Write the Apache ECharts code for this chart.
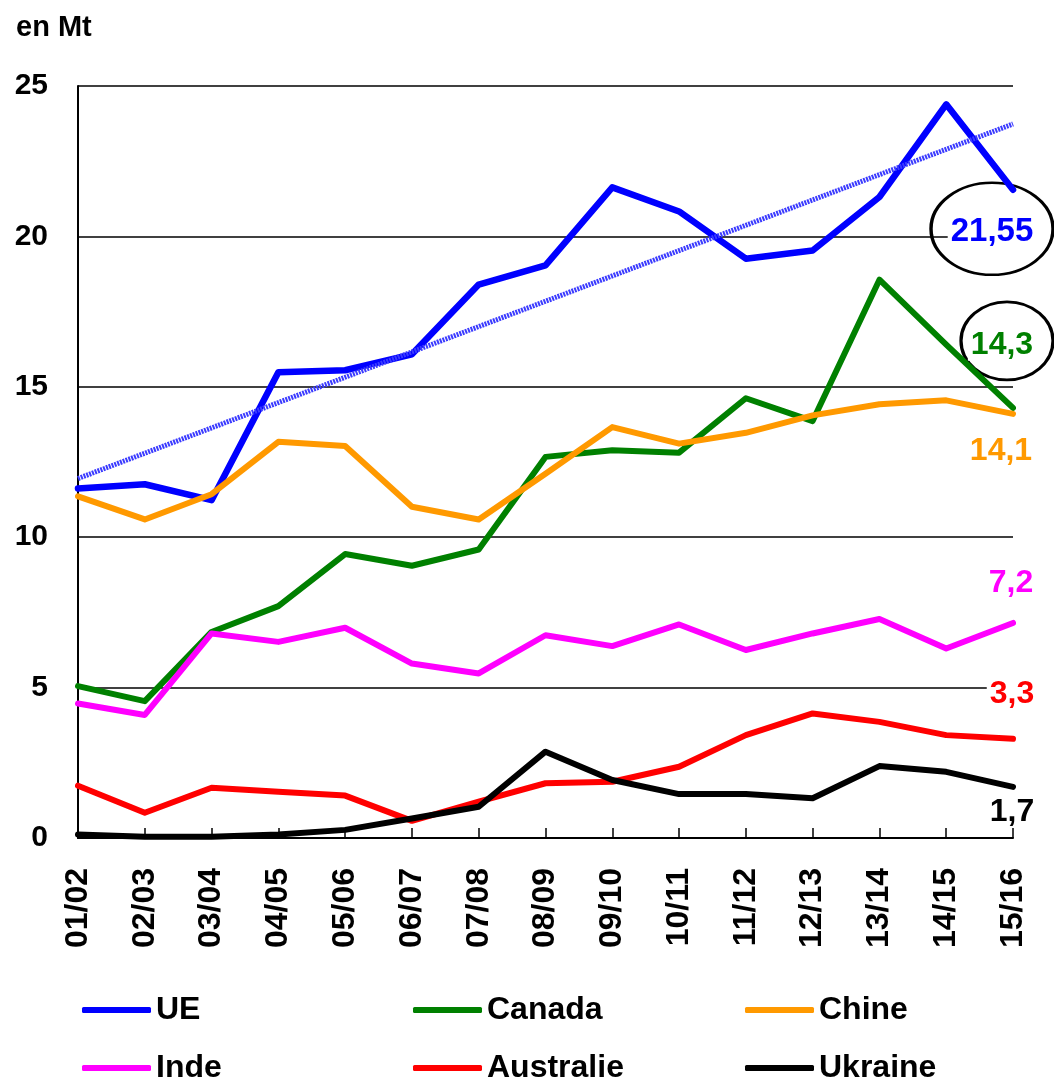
<!DOCTYPE html>
<html>
<head>
<meta charset="utf-8">
<script src="https://cdn.jsdelivr.net/npm/echarts@6/dist/echarts.min.js"></script>
<style>
  html, body { margin: 0; padding: 0; background: #fff; }
  #chart { width: 1054px; height: 1080px; }
</style>
</head>
<body>
<div id="chart"></div>
<script>
const FONT = '"Liberation Sans", Arial, sans-serif';

// campaigns
const years = ['01/02', '02/03', '03/04', '04/05', '05/06', '06/07', '07/08', '08/09',
  '09/10', '10/11', '11/12', '12/13', '13/14', '14/15', '15/16'];

// values in Mt
const ue = [11.62, 11.76, 11.23, 15.48, 15.55, 16.08, 18.4, 19.04, 21.63, 20.83, 19.26, 19.53, 21.31, 24.39, 21.55];
const canada = [5.05, 4.55, 6.85, 7.71, 9.44, 9.05, 9.59, 12.67, 12.89, 12.81, 14.62, 13.86, 18.56, 16.4, 14.3];
const chine = [11.36, 10.59, 11.43, 13.17, 13.03, 11.01, 10.59, 12.11, 13.66, 13.11, 13.47, 14.05, 14.42, 14.55, 14.1];
const inde = [4.47, 4.09, 6.8, 6.52, 6.99, 5.8, 5.47, 6.74, 6.38, 7.1, 6.25, 6.8, 7.28, 6.3, 7.15];
const australie = [1.74, 0.84, 1.67, 1.54, 1.41, 0.57, 1.21, 1.82, 1.87, 2.37, 3.42, 4.14, 3.86, 3.42, 3.3];
const ukraine = [0.12, 0.04, 0.04, 0.12, 0.27, 0.65, 1.04, 2.87, 1.93, 1.46, 1.46, 1.32, 2.39, 2.2, 1.7];

const names = ['UE', 'Canada', 'Chine', 'Inde', 'Australie', 'Ukraine'];
const endLabels = ['21,55', '14,3', '14,1', '7,2', '3,3', '1,7'];

const allValues = [ue, canada, chine, inde, australie, ukraine];
const colors = ['#0000ff', '#008000', '#ff9900', '#ff00ff', '#ff0000', '#000000'];

// linear trend of the UE series (least squares, like the spreadsheet trendline)
function linearTrend(vals) {
  const n = vals.length;
  let sx = 0, sy = 0, sxy = 0, sxx = 0;
  vals.forEach((v, i) => { sx += i; sy += v; sxy += i * v; sxx += i * i; });
  const slope = (n * sxy - sx * sy) / (n * sxx - sx * sx);
  const icpt = (sy - slope * sx) / n;
  return vals.map((v, i) => +(icpt + slope * i).toFixed(3));
}

const chart = echarts.init(document.getElementById('chart'));

const lineSeries = names.map((name, i) => ({
  name: name,
  type: 'line',
  data: allValues[i],
  color: colors[i],
  showSymbol: false,
  z: 3,
  lineStyle: { width: i === 0 ? 6.5 : 6, cap: 'round', join: 'round' }
}));

const trendSeries = {
  name: 'tendance',
  type: 'line',
  data: linearTrend(ue),
  showSymbol: false,
  z: 4,
  lineStyle: { color: '#3b3bff', width: 5, type: [2, 1] }
};

// end-of-line value labels (offsets in px from last point)
const labelOffsets = [[-21, 39], [-6, -67], [-12, 37], [-2, -40], [-1, -45], [-1, 25]];
const ellipses = [[122, 92], [92, 78], null, null, null, null];

const labelSeries = names.map((name, i) => {
  const last = allValues[i].length - 1;
  const ell = ellipses[i];
  return {
    type: 'scatter',
    silent: true,
    z: 2,
    data: [[years[last], allValues[i][last]]],
    symbol: 'circle',
    symbolSize: ell ? ell : 1,
    symbolOffset: labelOffsets[i],
    itemStyle: ell
      ? { color: 'rgba(0,0,0,0)', borderColor: '#000', borderWidth: 3, opacity: 1 }
      : { color: 'rgba(0,0,0,0)', opacity: 1 },
    label: {
      show: true,
      position: 'inside',
      formatter: endLabels[i],
      color: colors[i],
      opacity: 1,
      fontFamily: FONT,
      fontWeight: 'bold',
      fontSize: i === 0 ? 33 : 32,
      backgroundColor: '#fff',
      padding: [0, 3],
      offset: i === 1 ? [-5, 4] : (i === 0 ? [0, 3] : [0, 0])
    }
  };
});

const legendLefts = [77, 408, 740];
const legendTops = [989, 1047];
const legends = names.map((name, i) => ({
  data: [name],
  left: legendLefts[i % 3],
  top: legendTops[Math.floor(i / 3)],
  icon: 'roundRect',
  itemWidth: 69,
  itemHeight: 6,
  selectedMode: false,
  textStyle: { color: '#000', fontFamily: FONT, fontWeight: 'bold', fontSize: 32, lineHeight: 32 }
}));

chart.setOption({
  animation: false,
  backgroundColor: '#fff',
  title: {
    text: 'en Mt',
    left: 11,
    top: 8,
    textStyle: { color: '#000', fontFamily: FONT, fontWeight: 'bold', fontSize: 29 }
  },
  legend: legends,
  grid: { left: 78, right: 41, top: 86, bottom: 242 },
  xAxis: {
    type: 'category',
    data: years,
    boundaryGap: false,
    axisLine: { lineStyle: { color: '#000', width: 2 } },
    axisTick: { inside: true, length: 10, interval: 0, lineStyle: { color: '#000', width: 1.5 } },
    axisLabel: {
      interval: 0,
      rotate: 90,
      margin: 30,
      color: '#000',
      fontFamily: FONT,
      fontWeight: 'bold',
      fontSize: 32
    }
  },
  yAxis: {
    type: 'value',
    min: 0,
    max: 25,
    interval: 5,
    axisLine: { show: true, lineStyle: { color: '#000', width: 2 } },
    axisTick: { show: false },
    splitLine: { lineStyle: { color: '#000', width: 1.5 } },
    axisLabel: {
      margin: 30,
      color: '#000',
      fontFamily: FONT,
      fontWeight: 'bold',
      fontSize: 30
    }
  },
  series: lineSeries.concat(labelSeries, [trendSeries])
});
</script>
</body>
</html>
